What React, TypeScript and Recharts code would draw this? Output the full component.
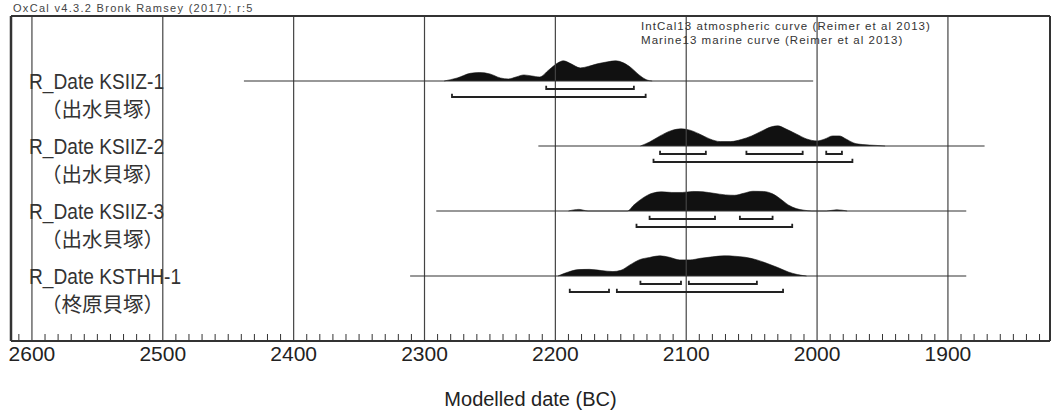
import React from 'react';
import {
  ComposedChart,
  XAxis,
  YAxis,
  Area,
  Line,
  ReferenceLine,
} from 'recharts';

// sample names and sites, top to bottom
const SAMPLES = ['R_Date KSIIZ-1', 'R_Date KSIIZ-2', 'R_Date KSIIZ-3', 'R_Date KSTHH-1'];
const SITES = ['（出水貝塚）', '（出水貝塚）', '（出水貝塚）', '（柊原貝塚）'];

// full extent of each calibrated distribution (BC)
const RANGES = [
  [2438, 2003],
  [2213, 1872],
  [2291, 1886],
  [2311, 1886],
];

// 68.3% and 95.4% highest probability ranges (BC)
const HPD68 = [
  [[2207, 2140]],
  [[2120, 2085], [2054, 2011], [1993, 1981]],
  [[2128, 2078], [2059, 2034]],
  [[2135, 2104], [2098, 2046]],
];
const HPD95 = [
  [[2279, 2131]],
  [[2125, 1973]],
  [[2138, 2019]],
  [[2189, 2159], [2153, 2026]],
];

// relative probability density [year BC, rel]
const DENSITY_KSIIZ1 = [
  [2285, 0], [2275, 0.15], [2265, 0.38], [2258, 0.42], [2250, 0.35], [2242, 0.15],
  [2236, 0.1], [2230, 0.2], [2224, 0.3], [2218, 0.25], [2212, 0.2], [2205, 0.55],
  [2198, 0.9], [2194, 1.0], [2188, 0.85], [2181, 0.65], [2175, 0.72], [2168, 0.85],
  [2160, 0.95], [2154, 1.0], [2148, 0.9], [2142, 0.65], [2136, 0.3], [2130, 0.05], [2126, 0],
];
const DENSITY_KSIIZ2 = [
  [2135, 0], [2128, 0.2], [2120, 0.5], [2112, 0.75], [2104, 0.85], [2098, 0.8],
  [2090, 0.6], [2082, 0.35], [2074, 0.22], [2066, 0.22], [2058, 0.32], [2050, 0.5],
  [2042, 0.75], [2035, 0.95], [2030, 1.0], [2024, 0.85], [2016, 0.6], [2008, 0.35],
  [2000, 0.25], [1994, 0.35], [1988, 0.5], [1983, 0.5], [1978, 0.35], [1972, 0.15],
  [1965, 0.07], [1955, 0.03], [1948, 0],
];
const DENSITY_KSIIZ3 = [
  [2190, 0], [2182, 0.08], [2175, 0], [2145, 0], [2140, 0.3], [2133, 0.65],
  [2126, 0.88], [2119, 0.95], [2111, 0.92], [2103, 0.92], [2095, 0.97], [2087, 0.95],
  [2079, 0.88], [2070, 0.8], [2063, 0.78], [2056, 0.88], [2049, 0.98], [2041, 0.97],
  [2034, 0.85], [2028, 0.6], [2022, 0.3], [2016, 0.12], [2010, 0.04], [2004, 0],
  [1993, 0], [1985, 0.06], [1977, 0],
];
const DENSITY_KSTHH1 = [
  [2198, 0], [2190, 0.2], [2182, 0.32], [2174, 0.33], [2165, 0.27], [2156, 0.22],
  [2150, 0.28], [2143, 0.55], [2136, 0.8], [2128, 0.92], [2120, 1.0], [2113, 0.93],
  [2105, 0.8], [2097, 0.8], [2089, 0.88], [2080, 0.95], [2071, 1.0], [2063, 0.98],
  [2055, 0.93], [2046, 0.8], [2038, 0.62], [2030, 0.42], [2022, 0.2], [2015, 0.07], [2008, 0],
];
const DENSITIES = [DENSITY_KSIIZ1, DENSITY_KSIIZ2, DENSITY_KSIIZ3, DENSITY_KSTHH1];

const MAJOR_TICKS = [2600, 2500, 2400, 2300, 2200, 2100, 2000, 1900];
const X_DOMAIN = [1822, 2616];

const FONT = '"Liberation Sans", Arial, sans-serif';
const CJK = '"Noto Sans CJK JP", sans-serif';
const INK = '#222';

const ROWS = SAMPLES.length;
const PEAK = 0.31; // peak height in row units
const OFF68 = 0.123;
const OFF95 = 0.246;
const HOOK = 0.05;

const minorTicks: number[] = [];
for (let t = 1830; t <= 2610; t += 10) minorTicks.push(t);

const rowY = (i: number) => ROWS - i;

function YearTick(props: any) {
  const { x, y, payload } = props;
  const major = MAJOR_TICKS.includes(payload.value);
  return (
    <g>
      {!major && <line x1={x} x2={x} y1={y} y2={y - 7} stroke="#333" strokeWidth={1} />}
      {major && (
        <text x={x} y={y + 20} textAnchor="middle" fontSize={21} fill={INK} fontFamily={FONT}>
          {payload.value}
        </text>
      )}
    </g>
  );
}

function SampleTick(props: any) {
  const { y, payload } = props;
  const i = ROWS - payload.value;
  if (i < 0 || i >= ROWS) return <g />;
  return (
    <g>
      <text
        transform={`translate(29, ${y + 8}) scale(0.87, 1)`}
        fontSize={22}
        fill="#333"
        fontFamily={FONT}
      >
        {SAMPLES[i]}
      </text>
      <text x={41} y={y + 36} fontSize={20.5} fill="#333" fontFamily={CJK}>
        {SITES[i]}
      </text>
    </g>
  );
}

function bracket(a: number, b: number, y0: number) {
  return [
    { year: a, v: y0 + HOOK },
    { year: a, v: y0 },
    { year: b, v: y0 },
    { year: b, v: y0 + HOOK },
  ];
}

export default function App() {
  const series: React.ReactNode[] = [];
  SAMPLES.forEach((name, i) => {
    const base = rowY(i);
    const dens = DENSITIES[i].map(([year, rel]) => ({ year, v: base + rel * PEAK }));
    series.push(
      <Line
        key={`line-${i}`}
        data={RANGES[i].map((year) => ({ year, v: base }))}
        dataKey="v"
        stroke="#333"
        strokeWidth={1.2}
        dot={false}
        isAnimationActive={false}
      />
    );
    series.push(
      <Area
        key={`dens-${i}`}
        data={dens}
        dataKey="v"
        type="monotone"
        baseValue={base}
        stroke="#111"
        strokeWidth={0.6}
        fill="#111"
        fillOpacity={1}
        dot={false}
        activeDot={false}
        isAnimationActive={false}
      />
    );
    HPD68[i].forEach(([a, b], k) => {
      series.push(
        <Line
          key={`h68-${i}-${k}`}
          data={bracket(a, b, base - OFF68)}
          dataKey="v"
          stroke={INK}
          strokeWidth={1.8}
          dot={false}
          isAnimationActive={false}
        />
      );
    });
    HPD95[i].forEach(([a, b], k) => {
      series.push(
        <Line
          key={`h95-${i}-${k}`}
          data={bracket(a, b, base - OFF95)}
          dataKey="v"
          stroke={INK}
          strokeWidth={1.8}
          dot={false}
          isAnimationActive={false}
        />
      );
    });
  });

  return (
    <div style={{ position: 'absolute', left: 0, top: 0, width: 1053, height: 418, background: '#fff' }}>
      <div
        style={{
          position: 'absolute', left: 13, top: 2, fontFamily: FONT, fontSize: 11,
          color: '#444', letterSpacing: 1.3, whiteSpace: 'nowrap',
        }}
      >
        OxCal v4.3.2 Bronk Ramsey (2017); r:5
      </div>
      <ComposedChart
        width={1053}
        height={418}
        margin={{ top: 15, right: 2, left: 11, bottom: 0 }}
      >
        <XAxis
          dataKey="year"
          type="number"
          domain={X_DOMAIN}
          reversed
          allowDataOverflow
          ticks={minorTicks}
          interval={0}
          tickLine={false}
          tickSize={0}
          tickMargin={0}
          tick={<YearTick />}
          height={77}
          axisLine={{ stroke: '#333', strokeWidth: 2 }}
          label={{ value: 'Modelled date (BC)', position: 'insideBottom', offset: 12, fontSize: 20, fill: INK, fontFamily: FONT }}
        />
        <XAxis
          xAxisId="top"
          orientation="top"
          type="number"
          domain={X_DOMAIN}
          reversed
          height={1}
          tick={false}
          tickLine={false}
          axisLine={{ stroke: '#333', strokeWidth: 2 }}
        />
        <YAxis
          type="number"
          domain={[0, ROWS + 1]}
          ticks={SAMPLES.map((_, i) => rowY(i))}
          interval={0}
          width={1}
          mirror
          tickLine={false}
          tick={<SampleTick />}
          axisLine={{ stroke: '#333', strokeWidth: 2.5 }}
        />
        <YAxis
          yAxisId="right"
          orientation="right"
          type="number"
          domain={[0, ROWS + 1]}
          width={1}
          tick={false}
          tickLine={false}
          axisLine={{ stroke: '#333', strokeWidth: 2 }}
        />
        {MAJOR_TICKS.map((t) => (
          <ReferenceLine key={t} x={t} stroke="#444" strokeWidth={1.2} />
        ))}
        {series}
      </ComposedChart>
      <div
        style={{
          position: 'absolute', left: 641, top: 20, fontFamily: FONT, fontSize: 11.5,
          lineHeight: '13.5px', color: '#333', letterSpacing: 1.05, whiteSpace: 'nowrap',
        }}
      >
        <div>IntCal13 atmospheric curve (Reimer et al 2013)</div>
        <div>Marine13 marine curve (Reimer et al 2013)</div>
      </div>
    </div>
  );
}
